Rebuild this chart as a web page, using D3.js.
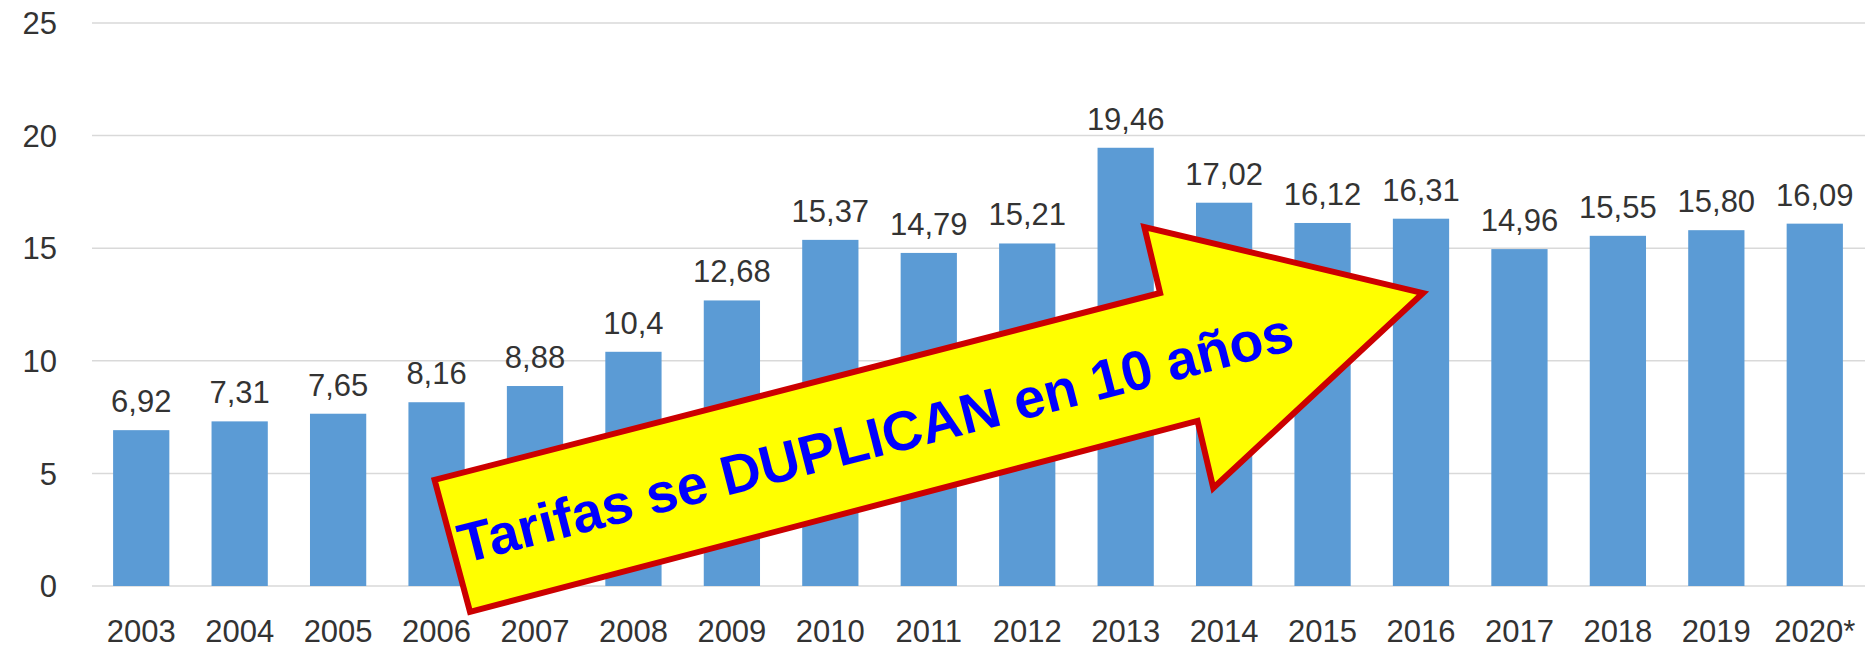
<!DOCTYPE html>
<html>
<head>
<meta charset="utf-8">
<script src="https://cdn.jsdelivr.net/npm/d3@7"></script>
<style>
    body { margin: 0; background: #ffffff; }
    svg { display: block; }
    .tick-label { font-family: "Liberation Sans", Arial, sans-serif; font-size: 31px; fill: #333333; }
</style>
</head>
<body>
<div id="chart"></div>
<script>
// chart data
let years = ["2003", "2004", "2005", "2006", "2007", "2008", "2009", "2010", "2011",
    "2012", "2013", "2014", "2015", "2016", "2017", "2018", "2019", "2020*"];
let tarifas = [6.92, 7.31, 7.65, 8.16, 8.88, 10.4, 12.68, 15.37, 14.79,
    15.21, 19.46, 17.02, 16.12, 16.31, 14.96, 15.55, 15.80, 16.09];
let valueLabels = ["6,92", "7,31", "7,65", "8,16", "8,88", "10,4", "12,68", "15,37", "14,79",
    "15,21", "19,46", "17,02", "16,12", "16,31", "14,96", "15,55", "15,80", "16,09"];
let yTicks = [0, 5, 10, 15, 20, 25];

// annotation arrow, in (bar index, value) units
let arrowPts = [[2.98, 4.71], [10.35, 13.01], [10.19, 15.94], [13.02, 13.01],
    [10.89, 4.35], [10.73, 7.33], [3.34, -1.15]];
let arrowText = "Tarifas se DUPLICAN en 10 años";

let width = 1876, height = 650;
let plot = {left: 92, right: 1864, top: 23, bottom: 586};

let svg = d3.select("#chart").append("svg")
    .attr("width", width)
    .attr("height", height);

// scales
let x = d3.scaleBand()
    .domain(years)
    .range([plot.left, plot.right])
    .paddingInner(0.4286)
    .paddingOuter(0.2143);

let y = d3.scaleLinear()
    .domain([0, 25])
    .range([plot.bottom, plot.top]);

// index scale for the arrow (centre of first bar -> centre of last bar)
let xi = d3.scaleLinear()
    .domain([0, years.length - 1])
    .range([x(years[0]) + x.bandwidth() / 2, x(years[years.length - 1]) + x.bandwidth() / 2]);

// gridlines
svg.append("g")
    .selectAll("line")
    .data(yTicks)
    .enter().append("line")
    .attr("x1", plot.left)
    .attr("x2", plot.right + 1)
    .attr("y1", d => y(d))
    .attr("y2", d => y(d))
    .attr("stroke", "#d9d9d9")
    .attr("stroke-width", 1.5);

// y axis labels
svg.append("g")
    .selectAll("text")
    .data(yTicks)
    .enter().append("text")
    .attr("class", "tick-label")
    .attr("x", 57)
    .attr("y", d => y(d))
    .attr("dy", "0.36em")
    .attr("text-anchor", "end")
    .text(d => d);

// bars
svg.append("g")
    .selectAll("rect")
    .data(tarifas)
    .enter().append("rect")
    .attr("x", (d, i) => x(years[i]))
    .attr("y", d => y(d))
    .attr("width", x.bandwidth())
    .attr("height", d => y(0) - y(d))
    .attr("fill", "#5b9bd5");

// value labels
svg.append("g")
    .selectAll("text")
    .data(tarifas)
    .enter().append("text")
    .attr("class", "tick-label")
    .attr("x", (d, i) => x(years[i]) + x.bandwidth() / 2)
    .attr("y", d => y(d) - 18)
    .attr("text-anchor", "middle")
    .text((d, i) => valueLabels[i]);

// x axis labels
svg.append("g")
    .selectAll("text")
    .data(years)
    .enter().append("text")
    .attr("class", "tick-label")
    .attr("x", d => x(d) + x.bandwidth() / 2)
    .attr("y", 642)
    .attr("text-anchor", "middle")
    .text(d => d);

// arrow annotation
let pts = arrowPts.map(p => [xi(p[0]), y(p[1])]);

svg.append("polygon")
    .attr("points", pts.map(p => p.join(",")).join(" "))
    .attr("fill", "#ffff00")
    .attr("stroke", "#cc0000")
    .attr("stroke-width", 6)
    .attr("stroke-linejoin", "miter");

// text along the shaft
let tailMid = [(pts[0][0] + pts[6][0]) / 2, (pts[0][1] + pts[6][1]) / 2];
let dx = pts[1][0] - pts[0][0], dy = pts[1][1] - pts[0][1];
let shaftLen = Math.sqrt(dx * dx + dy * dy);
let angle = Math.atan2(dy, dx) * 180 / Math.PI;
let along = shaftLen * 0.583;
let cx = tailMid[0] + along * dx / shaftLen;
let cy = tailMid[1] + along * dy / shaftLen;

svg.append("text")
    .attr("transform", `translate(${cx}, ${cy}) rotate(${angle})`)
    .attr("text-anchor", "middle")
    .attr("dy", "0.36em")
    .style("font-family", '"Liberation Sans", Arial, sans-serif')
    .style("font-weight", "bold")
    .style("font-size", "55.5px")
    .style("fill", "#0000ff")
    .text(arrowText);
</script>
</body>
</html>
